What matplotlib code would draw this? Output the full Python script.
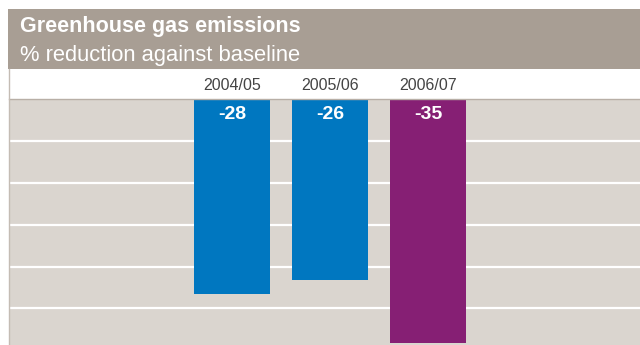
"""
Greenhouse gas emissions: % reduction against baseline, by year.
Output: out.png
"""
import matplotlib
matplotlib.use("Agg")
import matplotlib.pyplot as plt
from matplotlib.patches import Rectangle
from matplotlib.lines import Line2D

plt.rcParams["font.family"] = ["Liberation Sans", "DejaVu Sans"]

years = ["2004/05", "2005/06", "2006/07"]
reduction = [-28, -26, -35]
bar_colors = ["#0077c0", "#0077c0", "#861f74"]
grid_levels = [-6, -12, -18, -24, -30]

W, H = 640, 345
fig = plt.figure(figsize=(W / 100, H / 100), dpi=100)
fig.patch.set_facecolor("white")

# header band
fig.patches.append(Rectangle((8 / W, 1 - 69 / H), 1 - 8 / W, 60 / H,
                             transform=fig.transFigure, facecolor="#a89e94",
                             edgecolor="none", zorder=0))
fig.text(20 / W, 1 - 32 / H, "Greenhouse gas emissions", color="white",
         fontsize=15.5, fontweight="bold", va="baseline", ha="left")
fig.text(20 / W, 1 - 61 / H, "% reduction against baseline", color="white",
         fontsize=15.8, va="baseline", ha="left")

# plot area
ax = fig.add_axes([9 / W, 0, 1 - 9 / W, (H - 99) / H])
ax.set_facecolor("#dad5cf")
for s in ax.spines.values():
    s.set_visible(False)
ax.set_xticks([])
ax.set_yticks([])

x = list(range(len(years)))
ax.set_xlim(-2.276, 4.163)
ax.set_ylim(-35.24, 0)

for g in grid_levels:
    ax.axhline(g, color="white", linewidth=1.6, zorder=1)

ax.bar(x, reduction, width=0.776, align="center", color=bar_colors,
       zorder=2)

for xi, yr, val in zip(x, years, reduction):
    ax.text(xi, 1.0366, yr, transform=ax.get_xaxis_transform(),
            ha="center", va="baseline", fontsize=11.5, color="#444444",
            clip_on=False)
    ax.annotate(f"{val}", xy=(xi, 0), xytext=(0, -14.6),
                textcoords="offset points", ha="center", va="baseline",
                fontsize=14, fontweight="bold", color="white", zorder=3)

# thin frame lines along top and left of the plot area
fig.lines.append(Line2D([9 / W, 1], [1 - 99 / H, 1 - 99 / H],
                        transform=fig.transFigure, color="#b8afa6",
                        linewidth=1.0, zorder=5))
fig.lines.append(Line2D([8.5 / W, 8.5 / W], [0, 1 - 69 / H],
                        transform=fig.transFigure, color="#c4bcb4",
                        linewidth=1.0, zorder=5))

fig.savefig("out.png", dpi=100)
plt.close(fig)
